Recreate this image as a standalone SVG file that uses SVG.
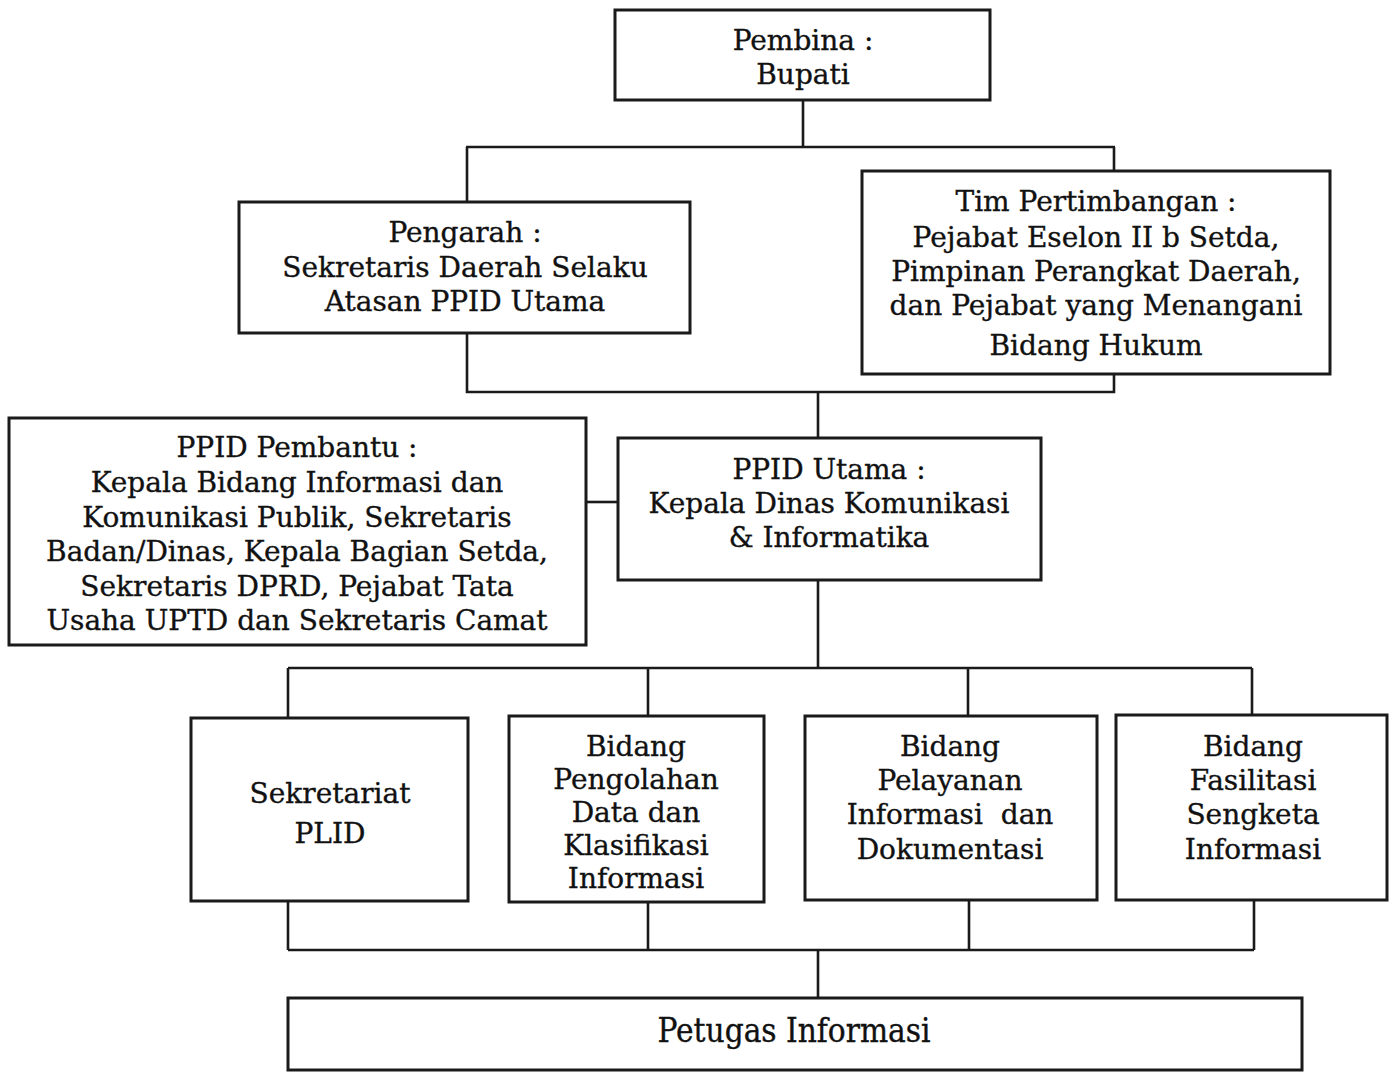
<svg xmlns="http://www.w3.org/2000/svg" width="1389" height="1072" viewBox="0 0 1389 1072">
<style>
.box{fill:#fff;stroke:#1a1a1a;stroke-width:3}
.ln{fill:none;stroke:#1a1a1a;stroke-width:2.6}
text{font-family:"DejaVu Serif","Liberation Serif",serif;font-size:28px;fill:#111;stroke:#111;stroke-width:0.35;text-anchor:middle}
.cond{font-family:"DejaVu Serif Condensed","DejaVu Serif",serif;font-stretch:condensed;font-size:33px}
</style>
<rect width="1389" height="1072" fill="#fff"/>
<g id="connectors">
<path class="ln" d="M803 100V147M466 147H1115M467 147V202M1114 147V171"/>
<path class="ln" d="M467 333V392H1114V374M818 392V438"/>
<path class="ln" d="M586 502H618"/>
<path class="ln" d="M818 580V668M288 668H1252M288 668V718M648 668V716M968 668V716M1252 668V715"/>
<path class="ln" d="M288 901V950M648 902V950M969 900V950M1254 900V950M288 950H1254M818 950V998"/>
</g>
<g id="pembina">
<rect class="box" x="615" y="10" width="375" height="90"/>
<text x="803" y="50">Pembina :</text>
<text x="803" y="84">Bupati</text>
</g>
<g id="pengarah">
<rect class="box" x="239" y="202" width="451" height="131"/>
<text x="465" y="242">Pengarah :</text>
<text x="465" y="277">Sekretaris Daerah Selaku</text>
<text x="465" y="311">Atasan PPID Utama</text>
</g>
<g id="tim-pertimbangan">
<rect class="box" x="862" y="171" width="468" height="203"/>
<text x="1096" y="211">Tim Pertimbangan :</text>
<text x="1096" y="247">Pejabat Eselon II b Setda,</text>
<text x="1096" y="281">Pimpinan Perangkat Daerah,</text>
<text x="1096" y="315">dan Pejabat yang Menangani</text>
<text x="1096" y="355">Bidang Hukum</text>
</g>
<g id="ppid-pembantu">
<rect class="box" x="9" y="418" width="577" height="227"/>
<text x="297" y="457">PPID Pembantu :</text>
<text x="297" y="492">Kepala Bidang Informasi dan</text>
<text x="297" y="527">Komunikasi Publik, Sekretaris</text>
<text x="297" y="561">Badan/Dinas, Kepala Bagian Setda,</text>
<text x="297" y="596">Sekretaris DPRD, Pejabat Tata</text>
<text x="297" y="630">Usaha UPTD dan Sekretaris Camat</text>
</g>
<g id="ppid-utama">
<rect class="box" x="618" y="438" width="423" height="142"/>
<text x="829" y="479">PPID Utama :</text>
<text x="829" y="513">Kepala Dinas Komunikasi</text>
<text x="829" y="547">&amp; Informatika</text>
</g>
<g id="sekretariat">
<rect class="box" x="191" y="718" width="277" height="183"/>
<text x="330" y="803">Sekretariat</text>
<text x="330" y="843">PLID</text>
</g>
<g id="bidang-pengolahan">
<rect class="box" x="509" y="716" width="255" height="186"/>
<text x="636" y="756">Bidang</text>
<text x="636" y="789">Pengolahan</text>
<text x="636" y="822">Data dan</text>
<text x="636" y="855">Klasifikasi</text>
<text x="636" y="888">Informasi</text>
</g>
<g id="bidang-pelayanan">
<rect class="box" x="805" y="716" width="292" height="184"/>
<text x="950" y="756">Bidang</text>
<text x="950" y="790">Pelayanan</text>
<text x="950" y="824" xml:space="preserve">Informasi  dan</text>
<text x="950" y="859">Dokumentasi</text>
</g>
<g id="bidang-fasilitasi">
<rect class="box" x="1116" y="715" width="271" height="185"/>
<text x="1253" y="756">Bidang</text>
<text x="1253" y="790">Fasilitasi</text>
<text x="1253" y="824">Sengketa</text>
<text x="1253" y="859">Informasi</text>
</g>
<g id="petugas-informasi">
<rect class="box" x="288" y="998" width="1014" height="72"/>
<text class="cond" x="794" y="1042">Petugas Informasi</text>
</g>
</svg>
